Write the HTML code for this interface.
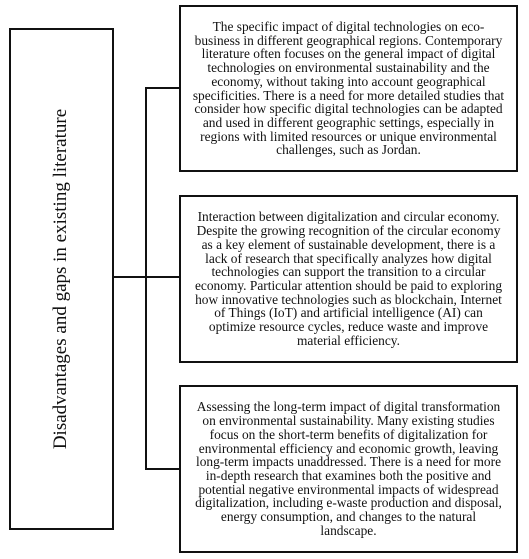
<!DOCTYPE html>
<html><head><meta charset="utf-8"><style>
body{margin:0;width:529px;height:559px;background:#fff;position:relative;overflow:hidden;font-family:"Liberation Serif",serif;color:#111}
.b{position:absolute;border:2px solid #111;box-sizing:border-box;display:flex;align-items:center;justify-content:center;text-align:center;font-size:13.4px;line-height:13.7px;padding:0 1px}
.l{position:absolute;background:#111}
.v{position:absolute;left:61px;top:279px;transform:translate(-50%,-50%) rotate(-90deg);white-space:nowrap;font-size:19px}
</style></head><body>
<div class="b" style="left:9px;top:28px;width:105px;height:502px"></div>
<div class="v">Disadvantages and gaps in existing literature</div>
<div class="l" style="left:145px;top:87px;width:2px;height:383px"></div>
<div class="l" style="left:145px;top:87px;width:35px;height:2px"></div>
<div class="l" style="left:113px;top:276px;width:67px;height:2px"></div>
<div class="l" style="left:145px;top:468px;width:35px;height:2px"></div>
<div class="b" style="left:179px;top:5px;width:339px;height:167px">The specific impact of digital technologies on eco-<br>business in different geographical regions. Contemporary<br>literature often focuses on the general impact of digital<br>technologies on environmental sustainability and the<br>economy, without taking into account geographical<br>specificities. There is a need for more detailed studies that<br>consider how specific digital technologies can be adapted<br>and used in different geographic settings, especially in<br>regions with limited resources or unique environmental<br>challenges, such as Jordan.</div>
<div class="b" style="left:179px;top:195px;width:339px;height:168px">Interaction between digitalization and circular economy.<br>Despite the growing recognition of the circular economy<br>as a key element of sustainable development, there is a<br>lack of research that specifically analyzes how digital<br>technologies can support the transition to a circular<br>economy. Particular attention should be paid to exploring<br>how innovative technologies such as blockchain, Internet<br>of Things (IoT) and artificial intelligence (AI) can<br>optimize resource cycles, reduce waste and improve<br>material efficiency.</div>
<div class="b" style="left:179px;top:385px;width:339px;height:168px">Assessing the long-term impact of digital transformation<br>on environmental sustainability. Many existing studies<br>focus on the short-term benefits of digitalization for<br>environmental efficiency and economic growth, leaving<br>long-term impacts unaddressed. There is a need for more<br>in-depth research that examines both the positive and<br>potential negative environmental impacts of widespread<br>digitalization, including e-waste production and disposal,<br>energy consumption, and changes to the natural<br>landscape.</div>
</body></html>
